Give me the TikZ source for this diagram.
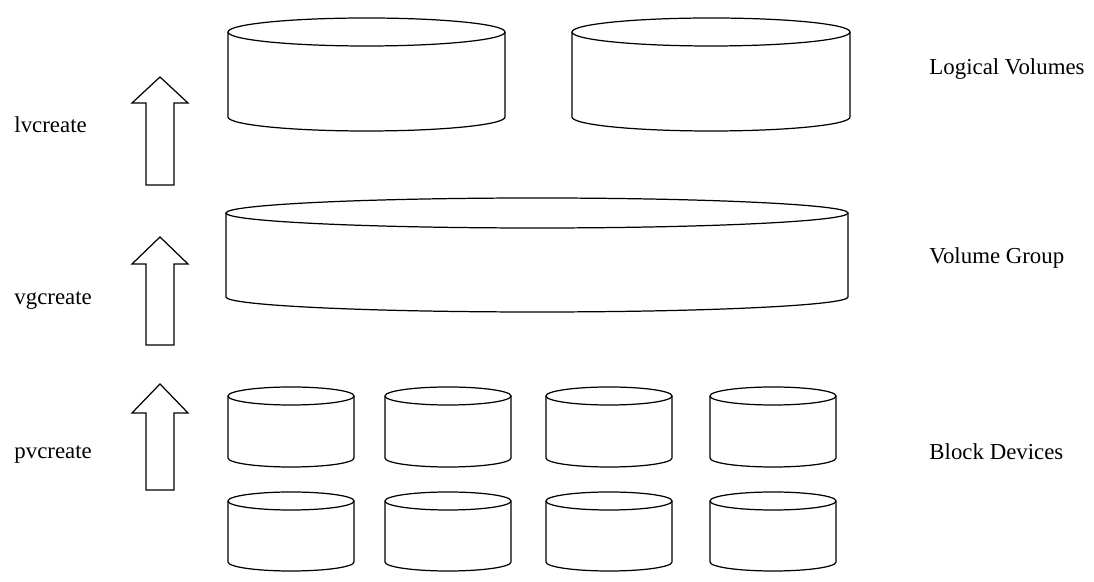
\documentclass[tikz,border=0pt]{standalone}
\usepackage{fontspec}
\setmainfont{Liberation Serif}

\tikzset{
  pics/disk/.style n args={3}{code={
    \draw (0,0) ellipse ({#1} and {#2});
    \draw (-#1,0) -- (-#1,-#3) arc[start angle=180, end angle=360, x radius=#1, y radius=#2] -- (#1,0);
  }},
  cmd/.style={anchor=west},
  layer/.style={anchor=west}
}

\begin{document}
\begin{tikzpicture}[line width=0.7pt, font=\fontsize{13}{15}\selectfont]
  \useasboundingbox (0,0) rectangle (21.88,11.64);

  % --- logical volumes ---
  \pic at (7.33,11.0) {disk={2.77}{0.28}{1.7}};
  \pic at (14.22,11.0) {disk={2.78}{0.28}{1.7}};

  % --- volume group ---
  \pic at (10.74,7.38) {disk={6.22}{0.3}{1.68}};

  % --- block devices, two rows of four ---
  \foreach \x in {5.82,8.96,12.18,15.46} {
    \pic at (\x,3.72) {disk={1.26}{0.18}{1.24}};
    \pic at (\x,1.62) {disk={1.26}{0.18}{1.22}};
  }

  % --- block arrows (tip / head base / bottom) ---
  \foreach \tip/\base/\bot in {10.1/9.58/7.94, 6.9/6.36/4.74, 3.96/3.38/1.84} {
    \draw (3.2,\tip) -- (3.76,\base) -- (3.48,\base) -- (3.48,\bot)
      -- (2.92,\bot) -- (2.92,\base) -- (2.64,\base) -- cycle;
  }

  % --- commands ---
  \node[cmd] (lvc) at (0.16,9.15) {lvcreate};
  \node[cmd] (vgc) at (0.16,5.62) {vgcreate};
  \node[cmd] (pvc) at (0.16,2.55) {pvcreate};

  % --- layers ---
  \node[layer] (lv) at (18.46,10.25) {Logical Volumes};
  \node[layer] (vg) at (18.46,6.48) {Volume Group};
  \node[layer] (bd) at (18.46,2.6) {Block Devices};
\end{tikzpicture}
\end{document}
